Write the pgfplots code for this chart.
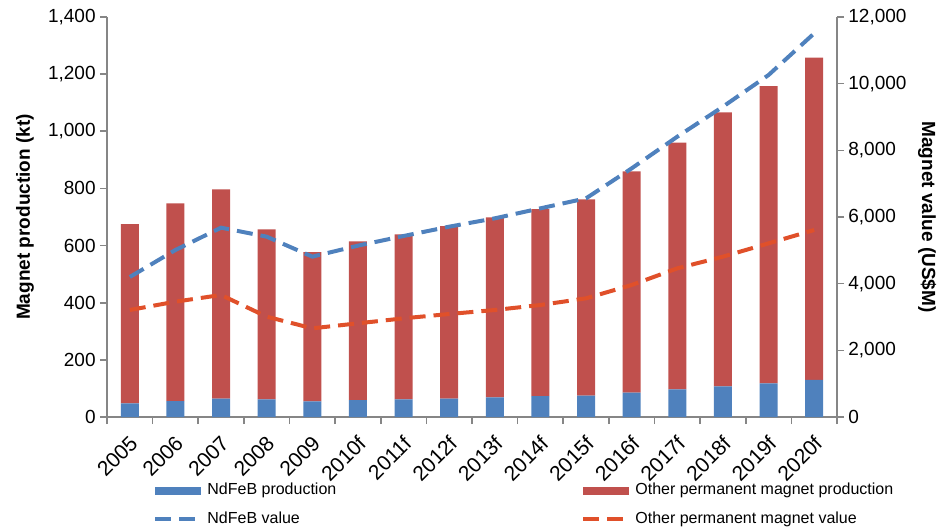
\documentclass[border=0pt]{standalone}
\usepackage{pgfplots}
\pgfplotsset{compat=1.18}
\usepackage{fontspec}
\setmainfont{Liberation Sans}

\definecolor{barblue}{HTML}{4F81BD}
\definecolor{barred}{HTML}{C0504D}
\definecolor{lineblue}{HTML}{4F81BD}
\definecolor{linered}{HTML}{E0502A}
\definecolor{axgray}{HTML}{868686}

% magnet production (kt) and value (US$M), 2005-2020f
\pgfplotstableread{
idx ndfeb other ndval othval
0   48  627  4200  3210
1   56  692  5010  3460
2   64  733  5680  3660
3   62  595  5410  3010
4   55  522  4810  2660
5   59  556  5140  2810
6   62  577  5430  2960
7   64  604  5710  3090
8   69  630  5960  3210
9   73  655  6260  3360
10  75  687  6560  3560
11  85  775  7460  3960
12  97  863  8410  4460
13  107 959  9310  4810
14  118 1040 10260 5210
15  130 1128 11510 5610
}\magnets

\pgfplotsset{
  every axis/.append style={
    width=365pt, height=200pt, scale only axis,
    xmin=-0.5, xmax=15.5,
    ymin=0,
    font=\fontsize{9.5}{11}\selectfont,
    /pgf/number format/assume math mode=true,
    /pgf/number format/1000 sep={,},
    scaled y ticks=false,
    axis line style={axgray, line width=0.8pt},
    tick style={axgray, line width=0.8pt},
    major tick length=3.5pt,
    tick align=outside,
    label style={font=\fontsize{9.5}{11}\selectfont\bfseries},
  },
  valline/.style={line width=2pt, dash pattern=on 8pt off 4pt, no marks},
  barlegend/.style={legend image code/.code={\fill[##1] (0pt,-2pt) rectangle (23pt,2pt);}},
  dashlegend/.style={legend image code/.code={\draw[##1] (0pt,0pt) -- (23pt,0pt);}},
}

\begin{document}
\begin{tikzpicture}
\path[use as bounding box] (-53.5pt,-54.5pt) rectangle (421.5pt,208.5pt);

\begin{axis}[
  ybar stacked, bar width=9pt,
  ymax=1400, ytick={0,200,...,1400},
  axis y line*=left, axis x line*=bottom,
  ylabel={Magnet production (kt)},
  ylabel style={at={(-33pt,0.5)}, anchor=south},
  xtick={-0.5,0.5,...,15.5},
  x tick label as interval,
  xticklabels={2005,2006,2007,2008,2009,2010f,2011f,2012f,2013f,2014f,2015f,2016f,2017f,2018f,2019f,2020f},
  xticklabel style={rotate=45, anchor=east, inner sep=0pt, yshift=-7pt, xshift=-4pt,
    font=\fontsize{10.5}{12}\selectfont},
  yticklabel style={inner sep=2pt},
  legend columns=2,
  legend cell align=left,
  legend style={draw=none, fill=none, at={(23pt,-31pt)}, anchor=north west,
    font=\fontsize{8}{10}\selectfont,
    /tikz/every even column/.append style={column sep=120.5pt},
    row sep=3pt, inner sep=0pt},
]
\addplot[fill=barblue, draw=none, barlegend] table[x=idx, y=ndfeb] {\magnets};
\addlegendentry{NdFeB production}
\addplot[fill=barred, draw=none, barlegend] table[x=idx, y=other] {\magnets};
\addlegendentry{Other permanent magnet production}
\addlegendimage{dashlegend, lineblue, valline}
\addlegendentry{NdFeB value}
\addlegendimage{dashlegend, linered, valline}
\addlegendentry{Other permanent magnet value}
\end{axis}

\begin{axis}[
  ymax=12000, ytick={0,2000,...,12000},
  axis y line*=right, axis x line=none,
  ylabel={Magnet value (US\$M)},
  ylabel style={at={(402pt,0.5)}, anchor=south, rotate=180},
  yticklabel style={inner sep=2pt},
]
\addplot[lineblue, valline] table[x=idx, y=ndval] {\magnets};
\addplot[linered, valline] table[x=idx, y=othval] {\magnets};
\end{axis}
\end{tikzpicture}
\end{document}
